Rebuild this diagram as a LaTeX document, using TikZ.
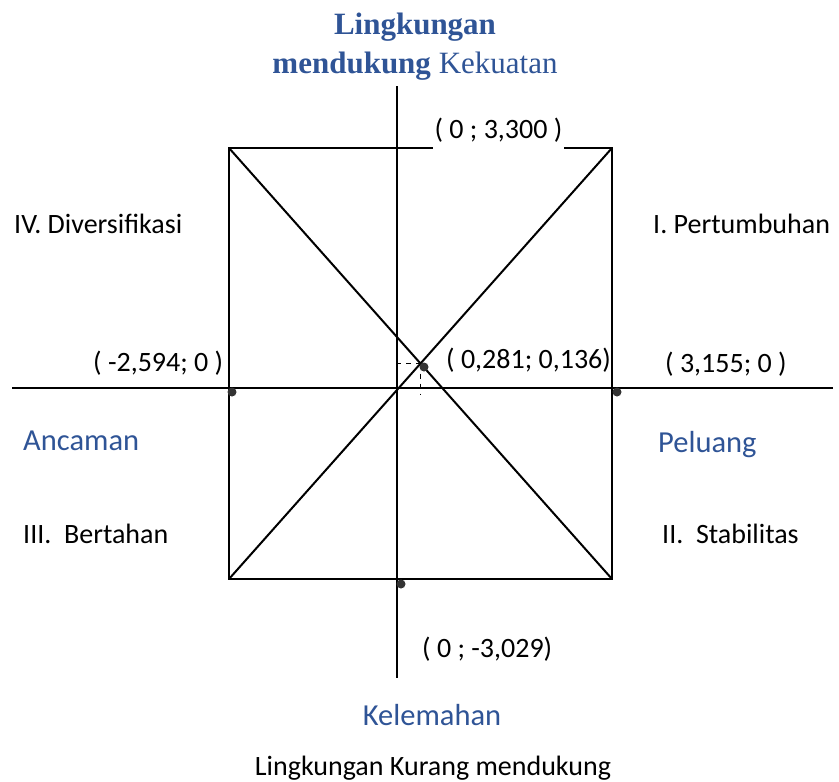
\documentclass[tikz,border=0pt]{standalone}
\usepackage{fontspec}
\setmainfont{Carlito}
\newfontfamily\titlefont{Liberation Serif}
\definecolor{swotblue}{RGB}{47,84,150}

\begin{document}
\begin{tikzpicture}[
  x=1pt, y=-1pt,
  line/.style={line width=2pt},
  guide/.style={line width=1.6pt, dash pattern=on 5pt off 5pt},
  dot/.style={circle, fill=black!80, inner sep=0pt, minimum size=9pt},
  lbl/.style={inner sep=0pt, anchor=base west, font=\fontsize{28}{34}\selectfont},
  zone/.style={inner sep=0pt, anchor=base west, text=swotblue, font=\fontsize{30.5}{36}\selectfont}
]
\useasboundingbox (0,0) rectangle (839,782);

\coordinate (ytop) at (397,86);
\coordinate (ybot) at (397,678);
\coordinate (xleft) at (12,388);
\coordinate (xright) at (833,388);
\coordinate (tl) at (229,148);
\coordinate (tr) at (612,148);
\coordinate (br) at (612,579);
\coordinate (bl) at (229,579);
\coordinate (mid) at (intersection of tl--br and tr--bl);

\draw[line] (ytop) -- (ybot);
\draw[line] (xleft) -- (xright);
\draw[line] (tl) -- (tr) -- (br) -- (bl) -- cycle;
\draw[line] (tl) -- (br);
\draw[line] (tr) -- (bl);
\draw[guide] (mid) -- (mid -| ytop);
\draw[guide] (mid) -- ([yshift=-6pt]mid |- xleft);

\node[dot] (pw) at (232,392) {};
\node[dot] (pe) at (617,392) {};
\node[dot] (ps) at (401,584) {};
\node[dot] (pm) at (424,367) {};

\node[anchor=north, inner sep=0pt, align=center, text=swotblue, font=\titlefont\fontsize{31}{39}\selectfont] (title) at (415,13) {\textbf{Lingkungan}\\\textbf{mendukung} Kekuatan};

\node[lbl, anchor=base, fill=white, inner xsep=2pt, text depth=12pt] (ltop) at (498.5,138) {( 0 ; 3,300 )};
\node[lbl] (lbot) at (422,657) {( 0 ; -3,029)};
\node[lbl] (lwest) at (93,371) {( -2,594; 0 )};
\node[lbl] (lmid) at (446,368) {( 0,281; 0,136)};
\node[lbl] (least) at (665,372) {( 3,155; 0 )};

\node[lbl] (q4) at (14,233) {IV. Diversifikasi};
\node[lbl] (q1) at (653,233) {I. Pertumbuhan};
\node[lbl] (q3) at (23,543) {III.~~Bertahan};
\node[lbl] (q2) at (662,543) {II.~~Stabilitas};

\node[zone] (threat) at (23,450) {Ancaman};
\node[zone] (chance) at (658,452) {Peluang};
\node[zone, anchor=base] (weak) at (432,725) {Kelemahan};
\node[lbl, anchor=base] (bottom) at (433,775) {Lingkungan Kurang mendukung};
\end{tikzpicture}
\end{document}
